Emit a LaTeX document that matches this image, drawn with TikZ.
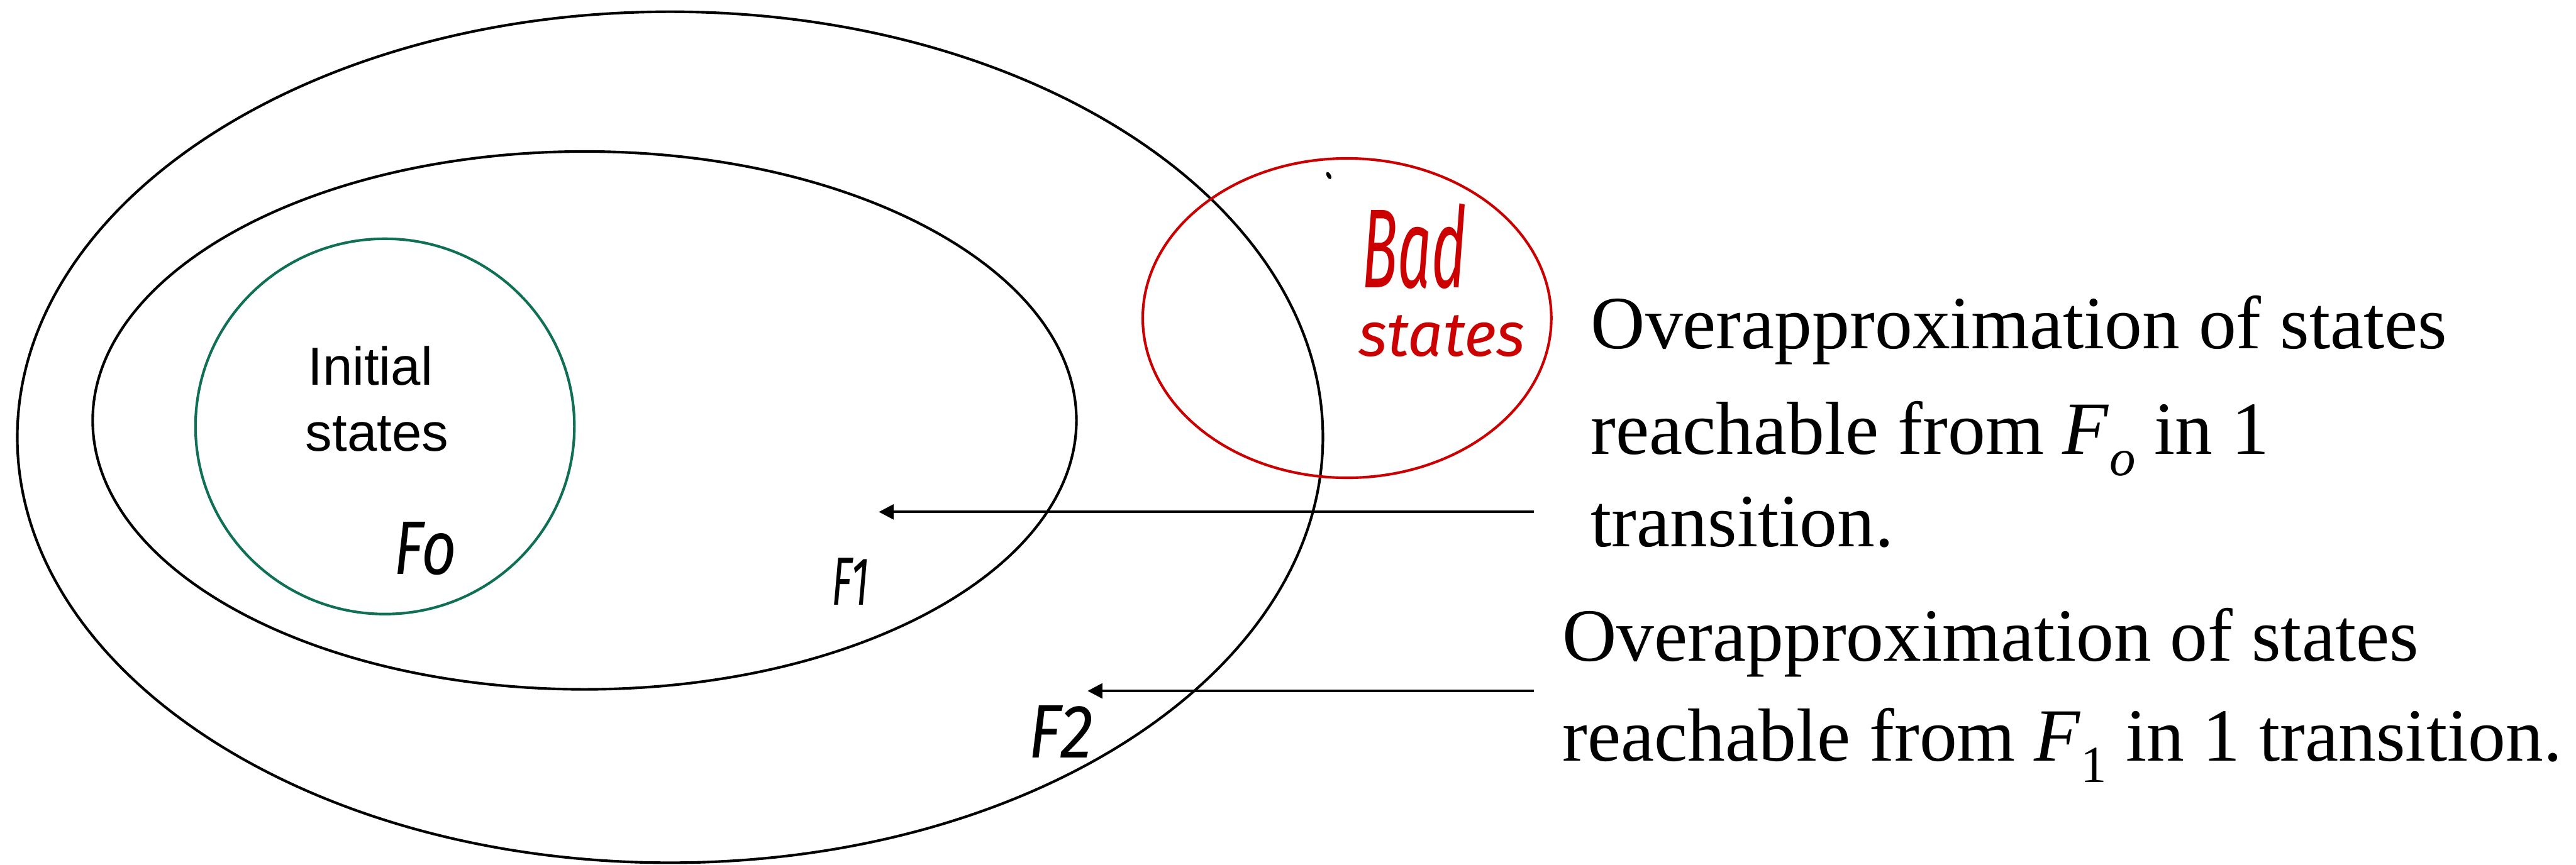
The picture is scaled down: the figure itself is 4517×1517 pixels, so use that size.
\documentclass[tikz,border=0pt]{standalone}
\usepackage{fontspec}
\usepackage{graphicx}
\setmainfont{Liberation Serif}
\newfontfamily\arialf{Liberation Sans}
\newfontfamily\handf{Fira Sans}
\usetikzlibrary{arrows.meta}
\definecolor{initgreen}{RGB}{16,112,86}
\definecolor{badred}{RGB}{204,0,0}
\newcommand{\bigtxt}{\fontsize{37.5}{45}\selectfont}
\newcommand{\subtxt}{\fontsize{26}{30}\selectfont}
\newcommand{\sbs}[1]{\raisebox{-0.28em}{\subtxt #1}}
\begin{document}
\begin{tikzpicture}[x=0.01cm,y=-0.01cm,
  setline/.style={line width=1.3pt},
  conn/.style={line width=1.3pt,-{Triangle[length=0.26cm,width=0.26cm]}},
  desc/.style={anchor=base west,inner sep=0pt,font=\bigtxt},
  initlbl/.style={anchor=base west,inner sep=0pt,font=\arialf\fontsize{26.7}{32}\selectfont},
  hand/.style={inner sep=0pt,font=\handf\itshape\fontsize{37.8}{40}\selectfont}]
\useasboundingbox (0,0) rectangle (4517,1517);
% sets
\draw[setline] (1175,767) ellipse [x radius=11.44cm, y radius=7.46cm];
\draw[setline] (1025,737.5) ellipse [x radius=8.62cm, y radius=4.715cm];
\draw[setline,draw=initgreen] (675,748) ellipse [x radius=3.32cm, y radius=3.29cm];
\draw[setline,draw=badred] (2362,558) ellipse [x radius=3.58cm, y radius=2.80cm];
\fill[rotate around={30:(2330,308)}] (2330,308) ellipse [x radius=0.035cm, y radius=0.07cm];
% labels inside sets
\node[initlbl] (init1) at (539,675) {Initial};
\node[initlbl] (init2) at (535,791) {states};
\node[hand] (f0) at (746,962) {\scalebox{0.8}[1]{Fo}};
\node[hand,font=\handf\itshape\fontsize{34}{36}\selectfont] (f1) at (1491,1020) {\scalebox{0.62}[1]{F1}};
\node[hand] (f2) at (1860,1284) {\scalebox{0.88}[1]{F2}};
\node[hand,text=badred,font=\handf\itshape\fontsize{56}{60}\selectfont] (bad) at (2480,432) {\scalebox{0.53}[1]{Bad}};
\node[hand,text=badred,font=\handf\itshape\fontsize{31}{34}\selectfont] (states) at (2528,590) {states};
% descriptions
\node[desc] (d1a) at (2789,612) {Overapproximation of states};
\node[desc] (d1b) at (2789,797) {reachable from \textit{F}\sbs{\textit{o}} in 1};
\node[desc] (d1c) at (2789,959) {transition.};
\node[desc] (d2a) at (2739,1160) {Overapproximation of states};
\node[desc] (d2b) at (2739,1335) {reachable from \textit{F}\sbs{1} in 1 transition.};
% arrows
\coordinate (a1tail) at (2690,898);
\coordinate (a1tip) at (1541,898);
\coordinate (a2tail) at (2690,1212);
\coordinate (a2tip) at (1907,1212);
\draw[conn] (a1tail) -- (a1tip);
\draw[conn] (a2tail) -- (a2tip);
\end{tikzpicture}
\end{document}
